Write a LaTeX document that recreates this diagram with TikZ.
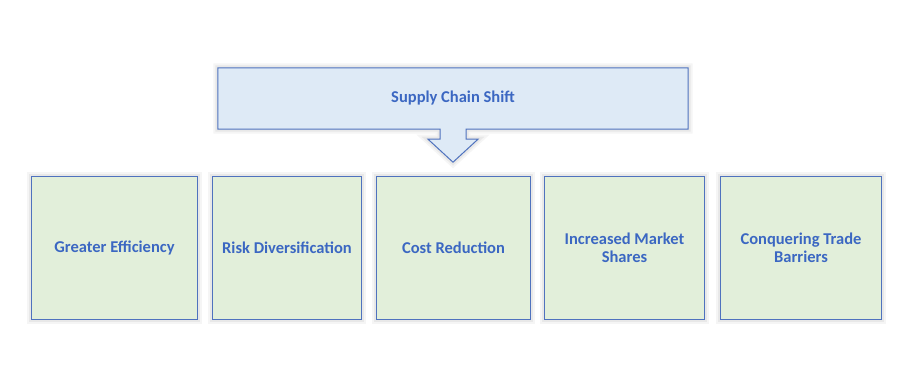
\documentclass[tikz,border=0pt]{standalone}
\usepackage{fontspec}
\setmainfont{Carlito}
\usetikzlibrary{positioning, calc}
\definecolor{cblue}{HTML}{DEEAF6}
\definecolor{cgreen}{HTML}{E2EFDA}
\definecolor{cline}{HTML}{4F72BE}
\definecolor{ctext}{HTML}{3B67C2}

\begin{document}
\begin{tikzpicture}[
  x=1pt, y=1pt,
  font=\fontsize{16.5}{18}\selectfont\bfseries,
  node distance=14pt,
  glow/.style={preaction={draw=black!4, line width=9pt},
               preaction={draw=black!9, line width=5pt}},
  box/.style={draw=cline, line width=1pt, fill=cgreen, text=ctext,
              align=center, minimum height=143pt, inner sep=3pt, glow},
  ]
\useasboundingbox (0,0) rectangle (922,386);

% callout on top
\node[minimum width=470pt, minimum height=61pt] (shift) at (453,287.5) {};
\draw[draw=cline, line width=1pt, fill=cblue, glow]
  (shift.north west) -- (shift.north east) -- (shift.south east)
  -- ($(shift.south)+(13,0)$) -- ++(0,-10) -- ++(12,0) -- ($(shift.south)+(0,-33)$)
  -- ($(shift.south)+(-25,-10)$) -- ++(12,0) -- ($(shift.south)+(-13,0)$)
  -- (shift.south west) -- cycle;
\node[text=ctext] at (shift) {Supply Chain Shift};

% the five boxes
\node[box, minimum width=166pt] (eff) at (114.5,138) {Greater Efficiency};
\node[box, minimum width=149pt, right=of eff] (risk) {Risk Diversification};
\node[box, minimum width=154pt, right=of risk] (cost) {Cost Reduction};
\node[box, minimum width=160pt, right=13pt of cost] (market) {Increased Market\\Shares};
\node[box, minimum width=161pt, right=15pt of market] (trade) {Conquering Trade\\Barriers};
\end{tikzpicture}
\end{document}
